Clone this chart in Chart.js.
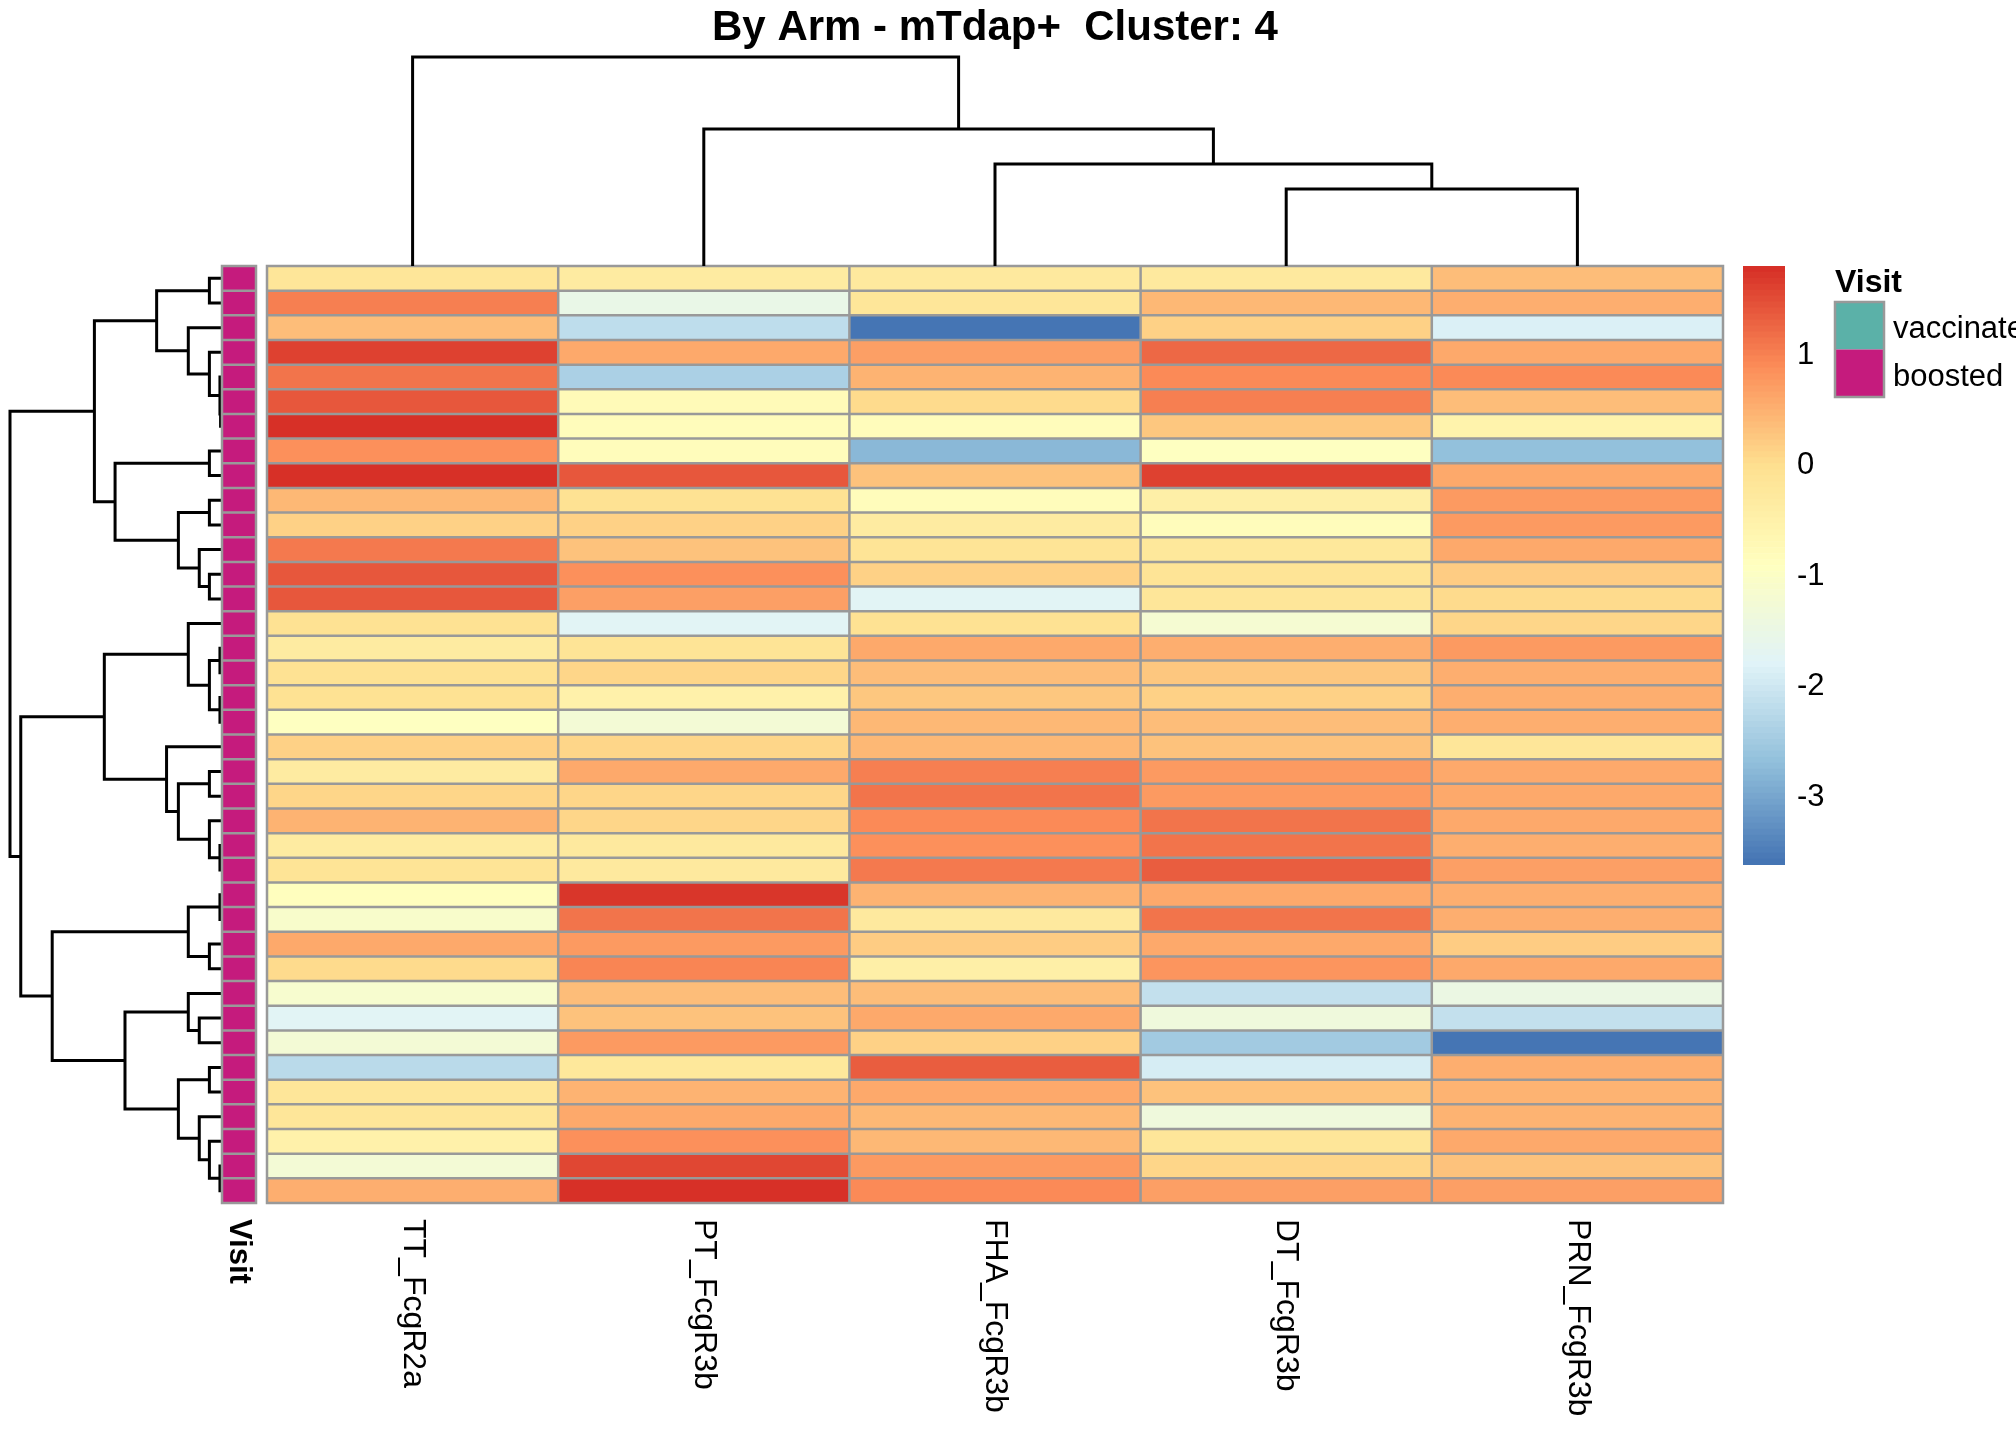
<!DOCTYPE html>
<html>
<head>
<meta charset="utf-8">
<title>By Arm - mTdap+  Cluster: 4</title>
<script src="https://cdn.jsdelivr.net/npm/chart.js@4.4.1/dist/chart.umd.min.js"></script>
<style>
  html, body { margin: 0; padding: 0; background: #fff; overflow: hidden; }
  body { width: 2016px; height: 1440px; position: relative; }
  .box { position: absolute; }
</style>
</head>
<body>
<div class="box" style="left:0;top:0;width:2016px;height:1440px"><canvas id="heat"></canvas></div>
<div class="box" style="left:0;top:256px;width:231px;height:957px"><canvas id="rowDendro"></canvas></div>
<div class="box" style="left:257px;top:47px;width:1476px;height:229px"><canvas id="colDendro"></canvas></div>
<div class="box" style="left:212px;top:256px;width:54px;height:1047px"><canvas id="anno"></canvas></div>
<div class="box" style="left:1733px;top:256px;width:283px;height:619px"><canvas id="scale"></canvas></div>

<script>
// datos de la grafica (orden de filas y columnas tal como se ve)
const title = 'By Arm - mTdap+  Cluster: 4';
const columns = ['TT_FcgR2a', 'PT_FcgR3b', 'FHA_FcgR3b', 'DT_FcgR3b', 'PRN_FcgR3b'];

const ttValues  = [-0.2, 1.0, 0.35, 1.6, 1.1, 1.35, 1.78, 0.85, 1.75, 0.4, 0.1, 1.05, 1.4, 1.4, -0.1, -0.38, -0.1, -0.1, -0.95, 0.15,
                   -0.35, 0.05, 0.45, -0.38, -0.15, -0.9, -1.1, 0.55, 0.03, -1.2, -1.75, -1.3, -2.25, -0.2, -0.2, -0.55, -1.3, 0.5];
const ptValues  = [-0.35, -1.55, -2.2, 0.55, -2.4, -0.8, -0.85, -0.85, 1.4, -0.1, 0.1, 0.28, 0.85, 0.65, -1.75, -0.15, 0.05, -0.5, -1.3, 0.05,
                   0.55, 0.05, 0.05, -0.33, -0.33, 1.72, 1.12, 0.72, 0.95, 0.35, 0.3, 0.75, -0.25, 0.45, 0.55, 0.85, 1.55, 1.75];
const fhaValues = [-0.3, -0.2, -3.64, 0.65, 0.45, 0.0, -0.85, -2.8, 0.3, -0.85, -0.35, -0.12, 0.15, -1.75, -0.1, 0.58, 0.35, 0.25, 0.42, 0.42,
                   0.98, 1.1, 0.88, 0.85, 1.05, 0.45, -0.33, 0.18, -0.45, 0.35, 0.55, 0.1, 1.32, 0.58, 0.42, 0.38, 0.75, 0.9];
const dtValues  = [-0.32, 0.4, 0.1, 1.2, 0.88, 1.0, 0.22, -0.95, 1.6, -0.45, -0.85, -0.25, -0.12, -0.2, -1.25, 0.5, 0.25, 0.15, 0.32, 0.28,
                   0.75, 0.75, 1.1, 1.12, 1.3, 0.58, 1.1, 0.55, 0.78, -2.15, -1.4, -2.55, -1.95, 0.28, -1.4, -0.18, 0.05, 0.65];
const prnValues = [0.35, 0.5, -1.9, 0.55, 0.88, 0.35, -0.6, -2.7, 0.55, 0.75, 0.72, 0.55, 0.2, 0.03, 0.05, 0.7, 0.48, 0.48, 0.48, -0.2,
                   0.55, 0.58, 0.55, 0.48, 0.65, 0.52, 0.52, 0.18, 0.55, -1.5, -2.15, -3.6, 0.52, 0.45, 0.45, 0.58, 0.3, 0.65];
const heatValues = [ttValues, ptValues, fhaValues, dtValues, prnValues];

// anotacion Visit por fila
const visitLevels = ['vaccinated', 'boosted'];
const visitColors = ['#5BB1A8', '#C51B7D'];
const rowVisit = Array(38).fill('boosted');

// dendrogramas estilo hclust: negativo = hoja (1..n), positivo = union anterior, luego altura
const colMerges = [[-4, -5, 3.68], [-3, 1, 4.88], [-2, 2, 6.55], [-1, 3, 10]];
const rowMerges = [
  [-6, -7, 0.02], [-5, 1, 0.05], [-4, 2, 0.55], [-3, 3, 1.55], [-1, -2, 0.55], [5, 4, 3.05],
  [-8, -9, 0.55], [-10, -11, 0.55], [-13, -14, 0.55], [-12, 9, 1.03], [8, 10, 2.02], [7, 11, 5.02], [6, 12, 6.0],
  [-16, -17, 0.05], [-18, -19, 0.05], [14, 15, 0.55], [-15, 16, 1.55],
  [-21, -22, 0.55], [-24, -25, 0.05], [-23, 19, 0.55], [18, 20, 2.02], [-20, 21, 2.58], [17, 22, 5.53],
  [-26, -27, 0.05], [-28, -29, 0.55], [24, 25, 1.55],
  [-31, -32, 1.03], [-30, 27, 1.55], [-33, -34, 0.55], [-37, -38, 0.05], [-36, 30, 0.55], [-35, 31, 1.03],
  [29, 32, 2.02], [28, 33, 4.55], [26, 34, 8.0], [23, 35, 9.49], [13, 36, 10]
];

// ticks de la barra de color
const scaleTicks = [1, 0, -1, -2, -3];

// estilos
const gridColor = '#999999';
const font = '"Liberation Sans", Arial, sans-serif';
const nRows = ttValues.length;

// paleta rev(RdYlBu 7) interpolada a 100 colores (como pheatmap)
const rdylbu = ['#4575B4', '#91BFDB', '#E0F3F8', '#FFFFBF', '#FEE090', '#FC8D59', '#D73027'];
function rampColors(hexes, n) {
  const rgb = hexes.map(h => [1, 3, 5].map(i => parseInt(h.substr(i, 2), 16)));
  const out = [];
  for (let k = 0; k < n; k++) {
    const t = k / (n - 1) * (rgb.length - 1);
    const i = Math.min(Math.floor(t), rgb.length - 2);
    const f = t - i;
    const c = rgb[i].map((v, j) => Math.round(v + (rgb[i + 1][j] - v) * f));
    out.push(`rgb(${c[0]}, ${c[1]}, ${c[2]})`);
  }
  return out;
}
const palette = rampColors(rdylbu, 100);
const allValues = heatValues.flat();
const vMin = Math.min(...allValues);
const vMax = Math.max(...allValues);
const breaks = palette.map((p, k) => vMin + (vMax - vMin) * k / palette.length).concat([vMax]);

function valueColor(v) {
  const k = Math.floor((v - vMin) / (vMax - vMin) * palette.length);
  return palette[Math.max(0, Math.min(palette.length - 1, k))];
}

// segmentos del dendrograma: posiciones de hojas en i + 0.5
function dendroSegments(merges) {
  const pos = [], hgt = [], segs = [];
  merges.forEach(([a, b, h]) => {
    const pa = a < 0 ? -a - 0.5 : pos[a - 1], ha = a < 0 ? 0 : hgt[a - 1];
    const pb = b < 0 ? -b - 0.5 : pos[b - 1], hb = b < 0 ? 0 : hgt[b - 1];
    segs.push([[pa, ha], [pa, h], [pb, h], [pb, hb]]);
    pos.push((pa + pb) / 2);
    hgt.push(h);
  });
  return segs;
}

// lineas grises de las celdas
function drawCellGrid(chart, nCols) {
  const { ctx, scales: { x, y } } = chart;
  ctx.save();
  ctx.strokeStyle = gridColor;
  ctx.lineWidth = 2.5;
  ctx.lineCap = 'square';
  ctx.beginPath();
  for (let r = 0; r <= nRows; r++) {
    const py = y.getPixelForValue(r);
    ctx.moveTo(x.getPixelForValue(-0.5), py);
    ctx.lineTo(x.getPixelForValue(nCols - 0.5), py);
  }
  for (let c = 0; c <= nCols; c++) {
    const px = x.getPixelForValue(c - 0.5);
    ctx.moveTo(px, y.getPixelForValue(0));
    ctx.lineTo(px, y.getPixelForValue(nRows));
  }
  ctx.stroke();
  ctx.restore();
}

// texto girado 90 grados (de arriba hacia abajo)
function drawDownText(ctx, text, x, y, f) {
  ctx.save();
  ctx.translate(x, y);
  ctx.rotate(Math.PI / 2);
  ctx.font = f;
  ctx.fillStyle = '#000';
  ctx.textAlign = 'left';
  ctx.textBaseline = 'middle';
  ctx.fillText(text, 0, 0);
  ctx.restore();
}

const baseOptions = (padding) => ({
  responsive: true,
  maintainAspectRatio: false,
  animation: false,
  devicePixelRatio: 1,
  layout: { padding: padding },
  plugins: { legend: { display: false }, tooltip: { enabled: false } }
});

const rowIdx = ttValues.map((v, r) => r);

// heatmap principal
const heatOptions = baseOptions({ left: 267, top: 266, right: 293, bottom: 237 });
heatOptions.scales = {
  x: { type: 'category', labels: columns, display: false, offset: true },
  y: { type: 'linear', min: 0, max: nRows, reverse: true, display: false }
};
new Chart(document.getElementById('heat').getContext('2d'), {
  type: 'bar',
  data: {
    labels: columns,
    datasets: rowIdx.map(r => ({
      data: columns.map(() => [r, r + 1]),
      backgroundColor: columns.map((c, j) => valueColor(heatValues[j][r])),
      borderWidth: 0,
      grouped: false,
      barPercentage: 1,
      categoryPercentage: 1
    }))
  },
  options: heatOptions,
  plugins: [{
    id: 'heatDecor',
    afterDatasetsDraw(chart) {
      const { ctx, chartArea, scales: { x } } = chart;
      drawCellGrid(chart, columns.length);
      // titulo
      ctx.save();
      ctx.font = 'bold 42px ' + font;
      ctx.fillStyle = '#000';
      ctx.textAlign = 'center';
      ctx.textBaseline = 'alphabetic';
      ctx.fillText(title, (chartArea.left + chartArea.right) / 2, 40);
      ctx.restore();
      // nombres de columnas
      columns.forEach((c, j) => drawDownText(ctx, c, x.getPixelForValue(j), chartArea.bottom + 16, '32px ' + font));
    }
  }]
});

// dendrograma de filas
const rowOptions = baseOptions({ left: 10, right: 10, top: 10, bottom: 10 });
rowOptions.scales = {
  x: { type: 'linear', min: 0, max: 10, reverse: true, display: false },
  y: { type: 'linear', min: 0, max: nRows, reverse: true, display: false }
};
new Chart(document.getElementById('rowDendro').getContext('2d'), {
  type: 'scatter',
  data: {
    datasets: dendroSegments(rowMerges).map(seg => ({
      data: seg.map(([p, h]) => ({ x: h, y: p })),
      showLine: true, borderColor: '#000', borderWidth: 3, pointRadius: 0, clip: false
    }))
  },
  options: rowOptions
});

// dendrograma de columnas
const colOptions = baseOptions({ left: 10, right: 10, top: 10, bottom: 10 });
colOptions.scales = {
  x: { type: 'linear', min: 0, max: columns.length, display: false },
  y: { type: 'linear', min: 0, max: 10, display: false }
};
new Chart(document.getElementById('colDendro').getContext('2d'), {
  type: 'scatter',
  data: {
    datasets: dendroSegments(colMerges).map(seg => ({
      data: seg.map(([p, h]) => ({ x: p, y: h })),
      showLine: true, borderColor: '#000', borderWidth: 3, pointRadius: 0, clip: false
    }))
  },
  options: colOptions
});

// columna de anotacion Visit
const annoOptions = baseOptions({ left: 10, right: 10, top: 10, bottom: 100 });
annoOptions.scales = {
  x: { type: 'category', labels: ['Visit'], display: false, offset: true },
  y: { type: 'linear', min: 0, max: nRows, reverse: true, display: false }
};
new Chart(document.getElementById('anno').getContext('2d'), {
  type: 'bar',
  data: {
    labels: ['Visit'],
    datasets: rowIdx.map(r => ({
      data: [[r, r + 1]],
      backgroundColor: visitColors[visitLevels.indexOf(rowVisit[r])],
      borderWidth: 0, grouped: false, barPercentage: 1, categoryPercentage: 1
    }))
  },
  options: annoOptions,
  plugins: [{
    id: 'annoDecor',
    afterDatasetsDraw(chart) {
      drawCellGrid(chart, 1);
      drawDownText(chart.ctx, 'Visit', chart.scales.x.getPixelForValue(0), chart.chartArea.bottom + 16, 'bold 31px ' + font);
    }
  }]
});

// barra de color + leyenda Visit
const scaleOptions = baseOptions({ left: 10, right: 231, top: 10, bottom: 10 });
scaleOptions.scales = {
  x: { type: 'category', labels: ['scale'], display: false, offset: true },
  y: { type: 'linear', min: vMin, max: vMax, display: false }
};
new Chart(document.getElementById('scale').getContext('2d'), {
  type: 'bar',
  data: {
    labels: ['scale'],
    datasets: palette.map((col, k) => ({
      data: [[breaks[k], breaks[k + 1]]],
      backgroundColor: col,
      borderWidth: 0, grouped: false, barPercentage: 1, categoryPercentage: 1
    }))
  },
  options: scaleOptions,
  plugins: [{
    id: 'scaleDecor',
    afterDatasetsDraw(chart) {
      const { ctx, chartArea, scales: { y } } = chart;
      ctx.save();
      ctx.fillStyle = '#000';
      ctx.font = '31px ' + font;
      ctx.textAlign = 'left';
      ctx.textBaseline = 'middle';
      scaleTicks.forEach(t => ctx.fillText(String(t), chartArea.right + 12, y.getPixelForValue(t) + 3));

      // leyenda de Visit
      const lx = chartArea.right + 50, ly = chartArea.top;
      ctx.font = 'bold 32px ' + font;
      ctx.textBaseline = 'alphabetic';
      ctx.fillText('Visit', lx, ly + 26);
      const bw = 49, bh = 47.5;
      visitLevels.forEach((lev, i) => {
        ctx.fillStyle = visitColors[i];
        ctx.fillRect(lx, ly + 36 + i * bh, bw, bh);
      });
      ctx.strokeStyle = gridColor;
      ctx.lineWidth = 2.5;
      ctx.strokeRect(lx, ly + 36, bw, bh * visitLevels.length);
      ctx.fillStyle = '#000';
      ctx.font = '31px ' + font;
      ctx.textBaseline = 'middle';
      visitLevels.forEach((lev, i) => ctx.fillText(lev, lx + bw + 9, ly + 40 + (i + 0.5) * bh));
      ctx.restore();
    }
  }]
});
</script>
</body>
</html>
